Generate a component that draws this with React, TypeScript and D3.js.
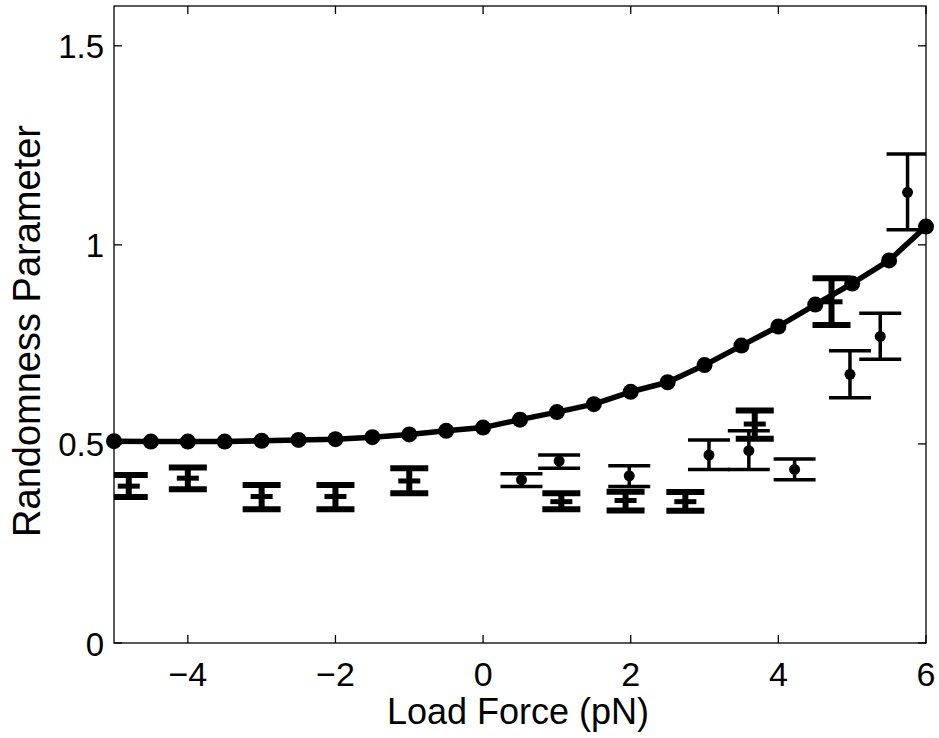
import React, { useRef, useEffect } from 'react';
import * as d3 from 'd3';

// model curve
const modelForce = [-5, -4.5, -4, -3.5, -3, -2.5, -2, -1.5, -1, -0.5, 0, 0.5, 1, 1.5, 2, 2.5, 3, 3.5, 4, 4.5, 5, 5.5, 6];
const modelRand = [0.507, 0.506, 0.506, 0.506, 0.508, 0.51, 0.512, 0.517, 0.524, 0.533, 0.541, 0.561, 0.58, 0.6, 0.631, 0.655, 0.698, 0.747, 0.795, 0.85, 0.903, 0.961, 1.046];

// thick error bars (dash marker)
const thickForce = [-4.8, -4, -3, -2, -1, 1.06, 1.93, 2.74, 3.68, 4.72];
const thickMid = [0.394, 0.414, 0.368, 0.368, 0.407, 0.355, 0.358, 0.355, 0.55, 0.857];
const thickLow = [0.367, 0.386, 0.336, 0.336, 0.376, 0.336, 0.333, 0.332, 0.513, 0.799];
const thickHigh = [0.422, 0.441, 0.397, 0.397, 0.439, 0.376, 0.38, 0.379, 0.584, 0.916];

// thin error bars (dot marker)
const thinForce = [0.52, 1.03, 1.98, 3.06, 3.6, 4.22, 4.97, 5.38, 5.75];
const thinMid = [0.41, 0.457, 0.42, 0.472, 0.483, 0.436, 0.675, 0.77, 1.132];
const thinLow = [0.393, 0.439, 0.393, 0.436, 0.436, 0.41, 0.616, 0.713, 1.038];
const thinHigh = [0.425, 0.472, 0.445, 0.51, 0.533, 0.462, 0.734, 0.828, 1.228];

const xTicks = [-4, -2, 0, 2, 4, 6];
const yTicks = [0, 0.5, 1, 1.5];

const App = () => {
  const svgRef = useRef<SVGSVGElement>(null);

  useEffect(() => {
    const svg = d3.select(svgRef.current);
    svg.selectAll('*').remove();

    const width = 939;
    const height = 738;
    const margin = { top: 6, right: 13, bottom: 95, left: 114 };
    const font = 'Liberation Sans, Arial, Helvetica, sans-serif';

    svg.attr('width', width).attr('height', height);

    const x = d3.scaleLinear().domain([-5, 6]).range([margin.left, width - margin.right]);
    const y = d3.scaleLinear().domain([0, 1.6]).range([height - margin.bottom, margin.top]);

    const x0 = margin.left, x1 = width - margin.right;
    const y0 = height - margin.bottom, y1 = margin.top;

    svg.append('rect').attr('width', width).attr('height', height).attr('fill', 'white');

    // clip for data
    svg.append('defs').append('clipPath').attr('id', 'plot-clip')
      .append('rect').attr('x', x0).attr('y', y1).attr('width', x1 - x0).attr('height', y0 - y1);

    const plot = svg.append('g').attr('clip-path', 'url(#plot-clip)');

    // thick error bars
    const capThick = 19;
    thickForce.forEach((f, i) => {
      const cx = x(f);
      const g = plot.append('g').attr('stroke', '#000').attr('stroke-width', 6);
      g.append('line').attr('x1', cx).attr('x2', cx).attr('y1', y(thickLow[i])).attr('y2', y(thickHigh[i]));
      g.append('line').attr('x1', cx - capThick).attr('x2', cx + capThick).attr('y1', y(thickLow[i])).attr('y2', y(thickLow[i]));
      g.append('line').attr('x1', cx - capThick).attr('x2', cx + capThick).attr('y1', y(thickHigh[i])).attr('y2', y(thickHigh[i]));
      g.append('line').attr('x1', cx - 11).attr('x2', cx + 11).attr('y1', y(thickMid[i])).attr('y2', y(thickMid[i]))
        .attr('stroke-width', 5);
    });

    // thin error bars
    const capThin = 21;
    thinForce.forEach((f, i) => {
      const cx = x(f);
      const g = plot.append('g').attr('stroke', '#000').attr('stroke-width', 3.5);
      g.append('line').attr('x1', cx).attr('x2', cx).attr('y1', y(thinLow[i])).attr('y2', y(thinHigh[i]));
      g.append('line').attr('x1', cx - capThin).attr('x2', cx + capThin).attr('y1', y(thinLow[i])).attr('y2', y(thinLow[i]));
      g.append('line').attr('x1', cx - capThin).attr('x2', cx + capThin).attr('y1', y(thinHigh[i])).attr('y2', y(thinHigh[i]));
      plot.append('circle').attr('cx', cx).attr('cy', y(thinMid[i])).attr('r', 5.5).attr('fill', '#000');
    });

    // model line
    const line = d3.line<number>().x((d, i) => x(modelForce[i])).y(d => y(d));
    svg.append('path').datum(modelRand).attr('d', line)
      .attr('fill', 'none').attr('stroke', '#000').attr('stroke-width', 5.5).attr('stroke-linejoin', 'round');
    svg.append('g').selectAll('circle').data(modelRand).join('circle')
      .attr('cx', (d, i) => x(modelForce[i])).attr('cy', d => y(d)).attr('r', 8).attr('fill', '#000');

    // axes box with inward ticks
    const axes = svg.append('g').attr('stroke', '#000').attr('stroke-width', 1.3);
    axes.append('rect').attr('x', x0).attr('y', y1).attr('width', x1 - x0).attr('height', y0 - y1).attr('fill', 'none');
    const tl = 8;
    xTicks.forEach(t => {
      axes.append('line').attr('x1', x(t)).attr('x2', x(t)).attr('y1', y0).attr('y2', y0 - tl);
      axes.append('line').attr('x1', x(t)).attr('x2', x(t)).attr('y1', y1).attr('y2', y1 + tl);
    });
    yTicks.forEach(t => {
      axes.append('line').attr('x1', x0).attr('x2', x0 + tl).attr('y1', y(t)).attr('y2', y(t));
      axes.append('line').attr('x1', x1).attr('x2', x1 - tl).attr('y1', y(t)).attr('y2', y(t));
    });

    // tick labels
    svg.append('g').selectAll('text').data(xTicks).join('text')
      .attr('x', d => x(d)).attr('y', 686)
      .attr('text-anchor', 'middle').attr('font-family', font).attr('font-size', 34)
      .text(d => (d < 0 ? '\u2212' + Math.abs(d) : String(d)));
    svg.append('g').selectAll('text').data(yTicks).join('text')
      .attr('x', x0 - 10).attr('y', d => y(d) + 12.5)
      .attr('text-anchor', 'end').attr('font-family', font).attr('font-size', 33)
      .text(d => String(d));

    // axis labels
    svg.append('text')
      .attr('x', 518).attr('y', 724)
      .attr('text-anchor', 'middle').attr('font-family', font).attr('font-size', 36)
      .text('Load Force (pN)');
    svg.append('text')
      .attr('transform', `translate(40, 331) rotate(-90)`)
      .attr('text-anchor', 'middle').attr('font-family', font).attr('font-size', 38)
      .text('Randomness Parameter');
  }, []);

  return <svg ref={svgRef} style={{ position: 'absolute', left: 0, top: 0 }}></svg>;
};

export default App;
